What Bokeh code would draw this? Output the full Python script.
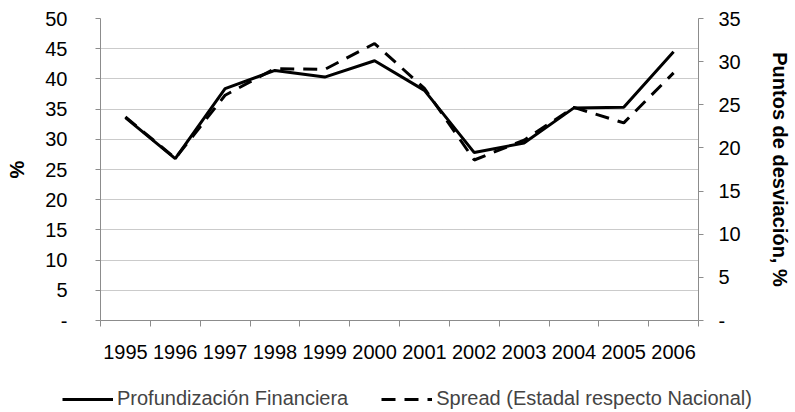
from bokeh.plotting import figure
from bokeh.layouts import column
from bokeh.models import Range1d, LinearAxis, FixedTicker, Legend, LegendItem
from bokeh.embed import file_html
from bokeh.resources import INLINE

years = [1995, 1996, 1997, 1998, 1999, 2000, 2001, 2002, 2003, 2004, 2005, 2006]
profundizacion = [33.6, 26.8, 38.4, 41.4, 40.3, 43.0, 38.1, 27.8, 29.4, 35.2, 35.3, 44.5]
spread = [23.6, 18.8, 26.1, 29.2, 29.1, 32.1, 26.9, 18.6, 20.9, 24.7, 22.9, 28.7]

left_ticks = [0, 5, 10, 15, 20, 25, 30, 35, 40, 45, 50]
right_ticks = [0, 5, 10, 15, 20, 25, 30, 35]
year_bounds = [y - 0.5 for y in years] + [years[-1] + 0.5]
series_names = ["Profundización Financiera", "Spread (Estadal respecto Nacional)"]

FONT = "Liberation Sans"
FS = "20px"
GRAY = "#8c8c8c"
DASH = "14 9"

p = figure(width=795, height=380, output_backend="svg", toolbar_location=None,
           x_range=Range1d(years[0] - 0.5, years[-1] + 0.5),
           y_range=Range1d(0, 50),
           min_border_left=100, min_border_right=97, min_border_top=18, min_border_bottom=60)
p.frame_align = False
p.outline_line_color = None
p.background_fill_color = "white"
p.border_fill_color = "white"

p.extra_y_ranges = {"right": Range1d(0, 35)}

# grid
p.xgrid.visible = False
p.ygrid.ticker = FixedTicker(ticks=left_ticks)
p.ygrid.grid_line_color = "#969696"
p.ygrid.grid_line_dash = "1 1"
p.ygrid.grid_line_width = 1

# x axis
xa = p.xaxis[0]
xa.ticker = FixedTicker(ticks=years, minor_ticks=year_bounds)
xa.major_label_overrides = {y: str(y) for y in years}
xa.major_tick_line_color = None
xa.major_tick_out = 0
xa.major_tick_in = 0
xa.minor_tick_line_color = GRAY
xa.minor_tick_out = 6
xa.minor_tick_in = 0
xa.axis_line_color = GRAY
xa.major_label_standoff = 18
xa.major_label_text_font = FONT
xa.major_label_text_font_size = FS
xa.major_label_text_color = "black"

# left axis
ya = p.yaxis[0]
ya.ticker = FixedTicker(ticks=left_ticks, minor_ticks=[])
ya.major_label_overrides = {0: "-"}
ya.axis_line_color = GRAY
ya.major_tick_line_color = GRAY
ya.major_tick_out = 5
ya.major_tick_in = 0
ya.minor_tick_line_color = None
ya.major_label_standoff = 28
ya.major_label_text_font = FONT
ya.major_label_text_font_size = FS
ya.major_label_text_color = "black"
ya.axis_label = "%"
ya.axis_label_text_font = FONT
ya.axis_label_text_font_size = FS
ya.axis_label_text_font_style = "bold"
ya.axis_label_text_color = "black"
ya.axis_label_standoff = 14

# right axis
ra = LinearAxis(y_range_name="right", ticker=FixedTicker(ticks=right_ticks, minor_ticks=[]))
ra.major_label_overrides = {0: "-"}
ra.axis_line_color = GRAY
ra.major_tick_line_color = GRAY
ra.major_tick_out = 5
ra.major_tick_in = 0
ra.minor_tick_line_color = None
ra.major_label_standoff = 15
ra.major_label_text_font = FONT
ra.major_label_text_font_size = FS
ra.major_label_text_color = "black"
ra.axis_label = "Puntos de desviación, %"
ra.axis_label_text_font = FONT
ra.axis_label_text_font_size = FS
ra.axis_label_text_font_style = "bold"
ra.axis_label_text_color = "black"
ra.axis_label_standoff = 25
p.add_layout(ra, "right")

p.line(years, profundizacion, line_color="black", line_width=3)
p.line(years, spread, line_color="black", line_width=3, line_dash=DASH,
       y_range_name="right")

# legend strip below the chart (its own ranges keep the series out of view)
lg = figure(width=795, height=32, output_backend="svg", toolbar_location=None,
            x_range=Range1d(0, 1), y_range=Range1d(0, 1),
            x_axis_type=None, y_axis_type=None,
            min_border_left=0, min_border_right=0, min_border_top=0, min_border_bottom=0)
lg.frame_align = False
lg.outline_line_color = None
lg.xgrid.visible = False
lg.ygrid.visible = False
l1 = lg.line(years, profundizacion, line_color="black", line_width=3)
l2 = lg.line(years, spread, line_color="black", line_width=3, line_dash=DASH)

legend = Legend(items=[LegendItem(label=series_names[0], renderers=[l1]),
                       LegendItem(label=series_names[1], renderers=[l2])],
                orientation="horizontal", location=(62, 2),
                border_line_color=None, background_fill_alpha=0,
                label_text_font=FONT, label_text_font_size=FS,
                glyph_width=51, glyph_height=20, label_height=20,
                label_standoff=4, spacing=33, padding=0, margin=0)
lg.add_layout(legend, "center")

layout = column(p, lg, spacing=0)
open("out.html", "w").write(file_html(layout, INLINE))
